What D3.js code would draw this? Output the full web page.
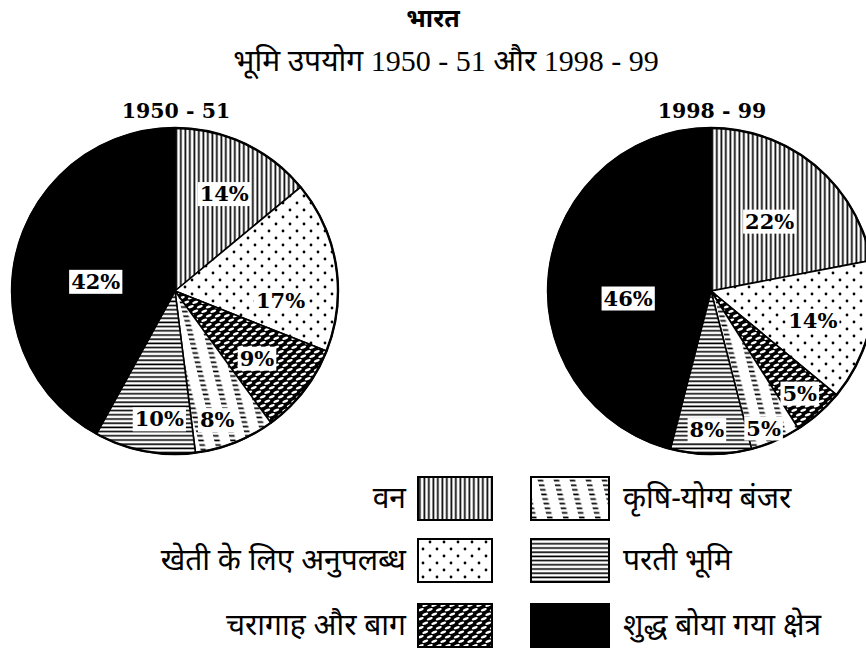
<!DOCTYPE html>
<html><head><meta charset="utf-8">
<script src="https://cdn.jsdelivr.net/npm/d3@7"></script>
<style>body{margin:0;background:#fff}svg{display:block}</style>
</head><body>
<svg id="c" width="866" height="651"></svg>
<script>
const categories = ["वन","खेती के लिए अनुपलब्ध","चरागाह और बाग","कृषि-योग्य बंजर","परती भूमि","शुद्ध बोया गया क्षेत्र"];
const values1950 = [14,17,9,8,10,42];
const values1998 = [22,14,5,5,8,46];
const pieTitles = ["1950 - 51","1998 - 99"];
const mainTitle = "भारत";
const subTitle = "भूमि उपयोग 1950 - 51 और 1998 - 99";

const svg = d3.select("#c");
const defs = svg.append("defs");
const patIds = ["p-vl","p-dot","p-hatch","p-dash","p-hl","p-solid"];

// patterns
let p = defs.append("pattern").attr("id","p-vl").attr("patternUnits","userSpaceOnUse").attr("width",4.5).attr("height",10);
p.append("rect").attr("width",4.5).attr("height",10).attr("fill","#fff");
p.append("rect").attr("x",0.5).attr("width",1.7).attr("height",10).attr("fill","#000");

p = defs.append("pattern").attr("id","p-dot").attr("patternUnits","userSpaceOnUse").attr("width",14).attr("height",14);
p.append("rect").attr("width",14).attr("height",14).attr("fill","#fff");
p.append("circle").attr("cx",3).attr("cy",3).attr("r",1.4).attr("fill","#000");
p.append("circle").attr("cx",10).attr("cy",10).attr("r",1.4).attr("fill","#000");

p = defs.append("pattern").attr("id","p-hatch").attr("patternUnits","userSpaceOnUse").attr("width",9).attr("height",9);
p.append("rect").attr("width",9).attr("height",9).attr("fill","#000");
[[2.25,2.25],[6.75,6.75],[11.25,2.25],[-2.25,6.75],[2.25,11.25],[6.75,-2.25]].forEach(([cx,cy]) => {
  p.append("ellipse").attr("cx",cx).attr("cy",cy).attr("rx",3.1).attr("ry",1.3)
    .attr("transform",`rotate(-20 ${cx} ${cy})`).attr("fill","#fff");
});

p = defs.append("pattern").attr("id","p-dash").attr("patternUnits","userSpaceOnUse").attr("width",16).attr("height",4.6).attr("patternTransform","skewX(14)");
p.append("rect").attr("width",16).attr("height",4.6).attr("fill","#fff");
p.append("rect").attr("x",2).attr("y",1.4).attr("width",5.5).attr("height",1.7).attr("fill","#000");

p = defs.append("pattern").attr("id","p-hl").attr("patternUnits","userSpaceOnUse").attr("width",10).attr("height",4.2);
p.append("rect").attr("width",10).attr("height",4.2).attr("fill","#fff");
p.append("rect").attr("y",1.2).attr("width",10).attr("height",1.6).attr("fill","#000");

p = defs.append("pattern").attr("id","p-solid").attr("patternUnits","userSpaceOnUse").attr("width",4).attr("height",4);
p.append("rect").attr("width",4).attr("height",4).attr("fill","#000");

const fill = d3.scaleOrdinal().domain(categories).range(patIds.map(id => `url(#${id})`));

// titles
const devFont = "'Noto Sans','Noto Sans Devanagari','Lohit Devanagari',sans-serif";
svg.append("text").attr("x",433).attr("y",27).attr("text-anchor","middle")
  .attr("font-family",devFont).attr("font-weight","bold").attr("font-size",25).text(mainTitle);
svg.append("text").attr("x",446).attr("y",71).attr("text-anchor","middle")
  .attr("font-family","'Liberation Serif','Noto Sans Devanagari','Noto Sans',serif").attr("font-size",30).text(subTitle);

// pies
const R = 163;
const centers = [[175,291],[711,291]];
const labelRad = [[0.67,0.65,0.65,0.83,0.79,0.49],[0.56,0.65,0.83,0.90,0.85,0.51]];
const labelRot = [[1.6,14,1.5,3.4,-3.8,-7.4],[0.4,1.6,0.4,2.4,1.7,-12]];
const pie = d3.pie().sort(null).value(d => d.v);
const arc = d3.arc().innerRadius(0).outerRadius(R);

[values1950, values1998].forEach((vals, pi) => {
  const data = vals.map((v,i) => ({cat: categories[i], v}));
  const arcs = pie(data);
  const g = svg.append("g").attr("transform", `translate(${centers[pi][0]},${centers[pi][1]})`);
  g.selectAll("path").data(arcs).join("path")
    .attr("d", arc).attr("fill", d => fill(d.data.cat))
    .attr("stroke","#000").attr("stroke-width",1.6).attr("stroke-linejoin","round");
  g.append("circle").attr("r",R).attr("fill","none").attr("stroke","#000").attr("stroke-width",2.4);
  svg.append("text").attr("x",centers[pi][0]+1).attr("y",118).attr("text-anchor","middle")
    .attr("font-family","'DejaVu Serif',serif").attr("font-weight","bold").attr("font-size",20.5)
    .text(pieTitles[pi]);
  arcs.forEach((a, i) => {
    const mid = (a.startAngle + a.endAngle)/2 + labelRot[pi][i]*Math.PI/180;
    const r = labelRad[pi][i]*R;
    const x = Math.sin(mid)*r, y = -Math.cos(mid)*r;
    const lg = g.append("g");
    const t = lg.append("text").attr("x",x).attr("y",y).attr("dy","0.36em").attr("text-anchor","middle")
      .attr("font-family","'DejaVu Serif',serif").attr("font-size",21).attr("font-weight", "bold")
      .text(a.data.v + "%");
    const bb = t.node().getBBox();
    lg.insert("rect","text").attr("x",bb.x-2).attr("y",bb.y+1).attr("width",bb.width+4).attr("height",bb.height-1).attr("fill","#fff");
  });
});

// legend
const rowsY = [477, 539, 604];
const swH = 43;
categories.forEach((c, i) => {
  const col = Math.floor(i/3), row = i%3;
  const sx = col === 0 ? 418 : 531, sw = col === 0 ? 74 : 78;
  svg.append("rect").attr("x",sx).attr("y",rowsY[row]).attr("width",sw).attr("height",swH)
    .attr("fill", fill(c)).attr("stroke","#000").attr("stroke-width",2);
  svg.append("text").attr("x", col === 0 ? 406 : 623).attr("y", rowsY[row]+31)
    .attr("text-anchor", col === 0 ? "end" : "start")
    .attr("font-family",devFont).attr("font-size",30).text(c);
});
</script>
</body></html>
